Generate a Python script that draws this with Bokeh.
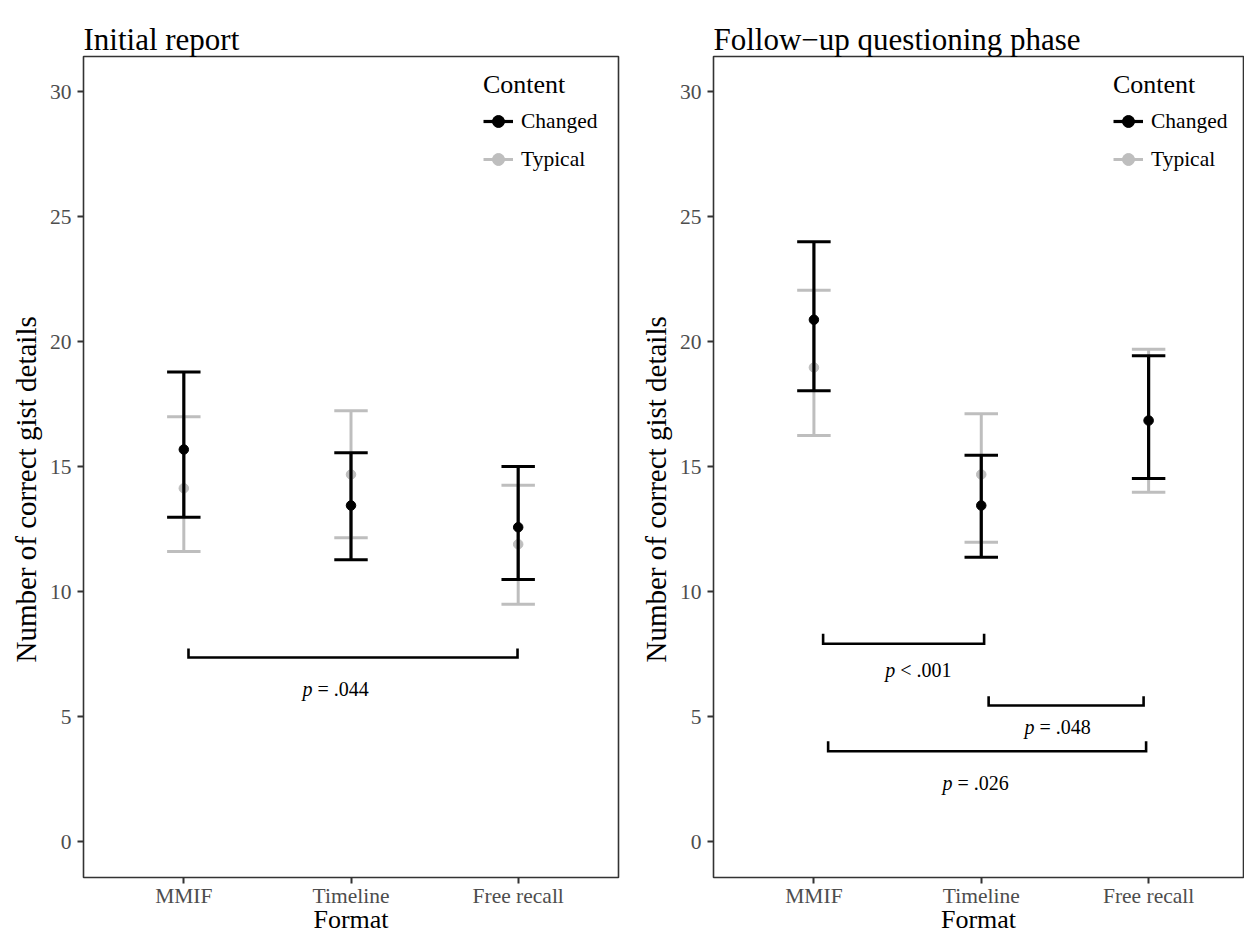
from bokeh.plotting import figure
from bokeh.layouts import row
from bokeh.models import (Legend, LegendItem, FixedTicker, Range1d, ColumnDataSource,
                          Title, LinearAxis)
from bokeh.core.properties import value
from bokeh.embed import file_html
from bokeh.resources import INLINE

formats = ["MMIF", "Timeline", "Free recall"]
content_levels = ["Changed", "Typical"]
x_pos = [1, 2, 3]

# Initial report
init_changed_mean = [15.68, 13.44, 12.57]
init_changed_lower = [12.97, 11.27, 10.48]
init_changed_upper = [18.78, 15.55, 15.00]
init_typical_mean = [14.13, 14.68, 11.89]
init_typical_lower = [11.60, 12.15, 9.49]
init_typical_upper = [16.99, 17.23, 14.25]

# Follow-up questioning phase
follow_changed_mean = [20.87, 13.44, 16.84]
follow_changed_lower = [18.03, 11.37, 14.52]
follow_changed_upper = [23.99, 15.45, 19.43]
follow_typical_mean = [18.96, 14.68, 16.83]
follow_typical_lower = [16.24, 11.97, 13.97]
follow_typical_upper = [22.05, 17.11, 19.69]

# significance brackets
init_br_x0 = [1.028]
init_br_x1 = [2.996]
init_br_y = [7.36]
init_br_tip = [7.72]
init_p_text = ["= .044"]
init_p_x = [1.907]
init_p_y = [6.1]

follow_br_x0 = [1.055, 2.044, 1.085]
follow_br_x1 = [2.017, 2.970, 2.985]
follow_br_y = [7.91, 5.44, 3.61]
follow_br_tip = [8.31, 5.81, 4.01]
follow_p_text = ["< .001", "= .048", "= .026"]
follow_p_x = [1.624, 2.455, 1.965]
follow_p_y = [6.85, 4.6, 2.35]

y_ticks = [0, 5, 10, 15, 20, 25, 30]

SERIF = "Liberation Serif"
COLORS = {"Changed": "#000000", "Typical": "#BEBEBE"}
Y0, Y1 = -1.44, 31.4


def make_panel(title, series, brackets, xmax, width, mbr):
    p = figure(width=width, height=937, x_range=Range1d(0.4, xmax),
               y_range=Range1d(Y0, Y1), output_backend="svg",
               toolbar_location=None, min_border_left=83, min_border_right=mbr,
               min_border_top=56, min_border_bottom=60,
               background_fill_color="white", border_fill_color="white")
    p.xgrid.visible = False
    p.ygrid.visible = False
    p.outline_line_color = "#333333"
    p.outline_line_width = 1.6

    xax = p.below[0]
    yax = p.left[0]

    # empty spacer axis between the frame and the title
    spacer = LinearAxis(ticker=FixedTicker(ticks=[]), axis_line_color=None,
                        major_tick_line_color=None, minor_tick_line_color=None,
                        major_tick_out=17, major_tick_in=0, minor_tick_out=0,
                        major_label_standoff=0, axis_label=None)
    p.add_layout(spacer, "above")

    p.title.text = title
    p.title.text_font = SERIF
    p.title.text_font_size = "31px"
    p.title.text_font_style = "normal"
    p.title.text_color = "#000000"
    p.title.align = "left"
    p.title.standoff = 0

    yax.ticker = FixedTicker(ticks=y_ticks)
    xax.ticker = FixedTicker(ticks=x_pos)
    xax.major_label_overrides = {x: f for x, f in zip(x_pos, formats)}
    for ax in [xax, yax]:
        ax.axis_line_color = None
        ax.major_tick_line_color = "#333333"
        ax.major_tick_line_width = 2
        ax.major_tick_out = 6
        ax.major_tick_in = 0
        ax.minor_tick_line_color = None
        ax.major_label_text_font = SERIF
        ax.major_label_text_font_size = "21.5px"
        ax.major_label_text_color = "#4D4D4D"
        ax.axis_label_text_font = SERIF
        ax.axis_label_text_font_size = "26px"
        ax.axis_label_text_font_style = "normal"
        ax.axis_label_text_color = "#000000"
    yax.major_label_standoff = 6
    xax.major_label_standoff = 0
    xax.axis_label = "Format"
    xax.axis_label_standoff = -6
    ylab = Title(text="Number of correct gist details", align="left",
                 text_font=SERIF, text_font_size="29px", text_font_style="normal",
                 text_color="#000000", standoff=9, offset=215)
    p.add_layout(ylab, "left")

    items = {}
    for name in ["Typical", "Changed"]:
        mean, lower, upper = series[name]
        col = COLORS[name]
        lw = 3.2 if name == "Changed" else 3.0
        src = ColumnDataSource(dict(
            x=x_pos, mean=mean, lower=lower, upper=upper,
            xl=[x - 0.1 for x in x_pos], xr=[x + 0.1 for x in x_pos]))
        r_bar = p.segment(x0="x", y0="lower", x1="x", y1="upper", source=src,
                          line_color=col, line_width=lw)
        p.segment(x0="xl", y0="upper", x1="xr", y1="upper", source=src,
                  line_color=col, line_width=lw)
        p.segment(x0="xl", y0="lower", x1="xr", y1="lower", source=src,
                  line_color=col, line_width=lw)
        r_pt = p.scatter("x", "mean", source=src, size=9.5, color=col)
        items[name] = LegendItem(label=name, renderers=[r_bar, r_pt])

    legend = Legend(items=[items[n] for n in content_levels], location=(400, 699),
                    title="Content", title_text_font=SERIF, title_text_font_size="26px",
                    title_text_font_style="normal", title_text_color="#000000",
                    title_standoff=2,
                    label_text_font=SERIF, label_text_font_size="21.5px",
                    label_text_color="#000000",
                    glyph_width=30, glyph_height=38, label_height=38, spacing=0,
                    padding=0, margin=0, label_standoff=8,
                    border_line_color=None, background_fill_alpha=0)
    p.add_layout(legend)

    bx0, bx1, by, btip, ptxt, px, py = brackets
    xs = [[a, a, b, b] for a, b in zip(bx0, bx1)]
    ys = [[t, y, y, t] for y, t in zip(by, btip)]
    p.multi_line(xs, ys, line_color="black", line_width=2.6, line_join="miter")
    p.text(px, py, text=["p"] * len(px), text_font=value(SERIF),
           text_font_style="italic", text_font_size="20px", text_align="right",
           text_baseline="middle", x_offset=-23, text_color="black")
    p.text(px, py, text=ptxt, text_font=value(SERIF), text_font_size="20px",
           text_align="left", text_baseline="middle", x_offset=-18, text_color="black")
    return p


p1 = make_panel("Initial report",
                {"Changed": (init_changed_mean, init_changed_lower, init_changed_upper),
                 "Typical": (init_typical_mean, init_typical_lower, init_typical_upper)},
                (init_br_x0, init_br_x1, init_br_y, init_br_tip, init_p_text, init_p_x, init_p_y),
                3.6, 630, 12)
p2 = make_panel("Follow\u2212up questioning phase",
                {"Changed": (follow_changed_mean, follow_changed_lower, follow_changed_upper),
                 "Typical": (follow_typical_mean, follow_typical_lower, follow_typical_upper)},
                (follow_br_x0, follow_br_x1, follow_br_y, follow_br_tip, follow_p_text, follow_p_x, follow_p_y),
                3.567, 614, 1)

layout = row(p1, p2)
open("out.html", "w").write(file_html(layout, INLINE))
